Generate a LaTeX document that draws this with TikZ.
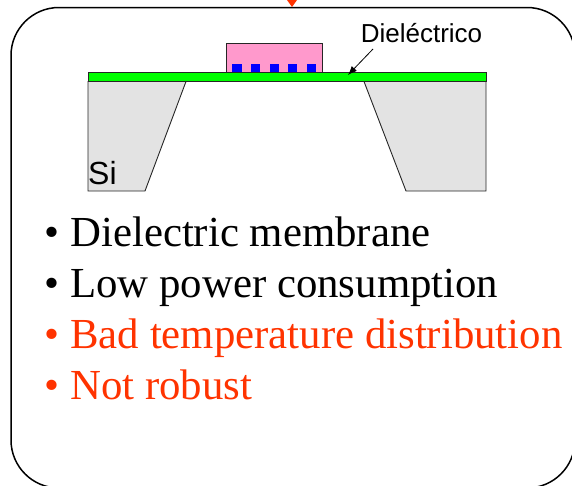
\documentclass[tikz,border=0pt]{standalone}
\usepackage{fontspec}
\setmainfont{Liberation Serif}
\newfontfamily\arialfont{Liberation Sans}
\usetikzlibrary{arrows.meta, positioning}
\definecolor{memgreen}{RGB}{0, 255, 0}
\definecolor{heaterpink}{RGB}{255, 153, 204}
\definecolor{padblue}{RGB}{0, 0, 255}
\definecolor{sigray}{RGB}{227, 227, 227}
\definecolor{badred}{RGB}{255, 51, 0}

\begin{document}
\begin{tikzpicture}[
        x=1pt, y=-1pt,
        layer/.style={draw=black!85, line width=0.9pt},
        pad/.style={fill=padblue, minimum width=9.5pt, minimum height=8pt, inner sep=0pt, anchor=south west},
        item/.style={font=\fontsize{42.8}{46}\selectfont, anchor=base west, inner sep=0pt},
        callout/.style={font=\arialfont\fontsize{26}{30}\selectfont, inner sep=0pt},
    ]
        \useasboundingbox (0,0) rectangle (572,485);
        \clip (0,0) rectangle (572,485);

        % Outer frame and the tip coming in from above
        \draw[line width=1.5pt, rounded corners=48pt] (11,7.5) rectangle (575,488);
        \fill[badred] (287,0) -- (297,0) -- (292,7) -- cycle;

        % Silicon frame
        \draw[layer, fill=sigray] (88,81.5) -- (186,81.5) -- (145,191) -- (88,191) -- cycle;
        \draw[layer, fill=sigray] (364,81.5) -- (486,81.5) -- (486,191) -- (406,191) -- cycle;
        \node[font=\arialfont\fontsize{32}{36}\selectfont, anchor=base west, inner sep=0pt] (si) at (88,184) {Si};

        % Heater and electrodes on the membrane
        \draw[layer, fill=heaterpink] (226,72) rectangle (322,43.5);
        \foreach \x in {232,250.5,269.5,287.5,306.5} {
            \node[pad] at (\x,72) {};
        }
        \draw[layer, fill=memgreen] (88,72) rectangle (486,81.5);

        \node[callout] (diel) at (421.5,33) {Dieléctrico};
        \coordinate (dieltip) at (348,75);
        \draw[-{Latex[length=9pt, width=7pt]}, line width=0.8pt] (373,49) -- (dieltip);

        % Bullet list
        \node[item] (b1) at (44.5,246) {• Dielectric membrane};
        \node[item] (b2) at (44.5,297) {• Low power consumption};
        \node[item, text=badred] (b3) at (44.5,348) {• Bad temperature distribution};
        \node[item, text=badred] (b4) at (44.5,399) {• Not robust};
    \end{tikzpicture}
\end{document}
